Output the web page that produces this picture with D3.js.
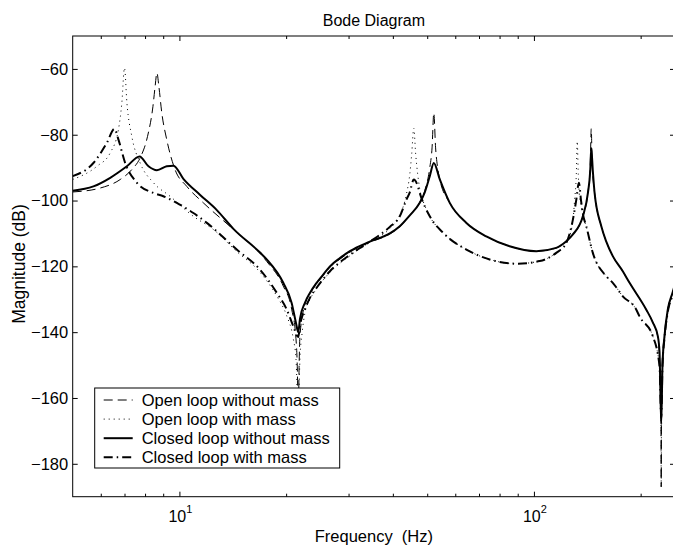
<!DOCTYPE html>
<html>
<head>
<meta charset="utf-8">
<script src="https://cdn.jsdelivr.net/npm/d3@7"></script>
<style>
    body { margin: 0; background: #fff; }
    svg { display: block; font-family: 'Liberation Sans', Arial, Helvetica, sans-serif; }
    .tick line { stroke: #000; }
</style>
</head>
<body>
<svg id="bode"></svg>
<script>
// Magnitude readings, [frequency (Hz), magnitude (dB)]
var openNoMass = [
    [5.0,-97.4],[5.98,-96.2],[6.81,-93.6],[7.34,-90.6],[7.75,-87.0],[8.13,-80.5],[8.42,-71.4],
    [8.54,-65.3],[8.64,-61.2],[8.75,-65.3],[8.92,-73.4],[9.21,-81.5],[9.72,-90.6],[10.49,-95.7],
    [11.68,-100.7],[14.2,-108.8],[17.63,-118.5],[19.63,-126],[20.73,-133],[21.32,-142],[21.52,-152],
    [21.64,-166],[21.76,-150],[21.88,-141],[22.61,-131.5],[23.36,-128.3],[24.38,-125.3],[25.44,-122.8],
    [26.58,-120.3],[28.36,-117.8],[30.26,-115.7],[34.44,-112.7],[39.21,-110.2],[41.84,-108],
    [44.65,-104.5],[47.64,-100.5],[49.21,-97],[50.84,-90],[51.6,-84],[52.19,-73.4],[52.8,-84],
    [53.5,-90],[54.26,-93.6],[57.88,-100.7],[64.5,-106.8],[73.4,-110.9],[85.4,-113.9],[101.6,-115.4],
    [115.6,-114.4],[123.4,-112.4],[128.8,-110.3],[137.4,-104.8],[142.0,-97.5],[144.2,-89],
    [145.1,-78.2],[146.0,-89],[148.3,-97.7],[154.9,-107.8],[160.0,-112.5],[166.9,-116.9],
    [178.1,-121.5],[186.1,-125],[207.3,-133.1],[216.4,-137],[223.6,-141.5],[226.1,-148],
    [228.2,-160],[228.6,-187],[229.0,-160],[230.5,-150],[233.5,-141.5],[238.6,-133.3],
    [246,-128.2],[250.7,-125.2]
];
var openMass = [
    [5.0,-93.6],[5.85,-89.6],[6.38,-85.5],[6.73,-78.4],[6.88,-70.3],[7.0,-59.7],[7.11,-70.3],
    [7.34,-80.5],[7.75,-88.6],[8.45,-94.6],[9.41,-98.7],[10.95,-104.8],[12.47,-108.8],[14.51,-115.5],
    [16.88,-121.8],[18.81,-129],[20.07,-135],[20.95,-142],[21.32,-148],[21.64,-165],[21.88,-148],
    [22.2,-140],[22.61,-134],[23.36,-130],[24.38,-126.8],[26.58,-121.8],[30.26,-116.8],
    [34.44,-112.6],[39.21,-108.5],[41.84,-104.5],[43.7,-98],[44.65,-92],[45.2,-86],[45.82,-78],
    [46.4,-86],[47.0,-92],[47.64,-96.5],[49.21,-101.5],[50.84,-104.8],[55.43,-109.8],[64.5,-114.9],
    [75.0,-117.9],[89.2,-119.2],[103.8,-118.4],[115.6,-115.9],[123.4,-113],[128.8,-106.3],
    [130.2,-100],[131.7,-92],[132.5,-82],[133.4,-92],[134.5,-99],[135.8,-101],[137.4,-104.3],
    [140.5,-108],[146.6,-115.9],[160.0,-123],[166.9,-125],[178.1,-129.1],[194.3,-133.1],
    [198.5,-135.2],[216.4,-141.2],[226.1,-150.3],[228.2,-162],[228.6,-187],[229.0,-162],
    [230.5,-151],[233.5,-142],[238.6,-134],[246,-129],[250.7,-126]
];
var closedNoMass = [
    [5.0,-97.0],[5.72,-95.7],[6.38,-93.1],[7.11,-89.6],[7.72,-86.6],[8.18,-89.6],[8.64,-90.8],
    [9.21,-89.6],[9.62,-89.4],[10.26,-93.4],[11.44,-98.3],[12.75,-102.9],[14.2,-108.6],
    [16.88,-115.8],[17.63,-117.9],[19.63,-125],[20.73,-131.1],[21.32,-137.2],[21.64,-140],
    [21.88,-136],[22.61,-131],[23.36,-128],[24.38,-125],[25.44,-122.5],[26.58,-120],[28.36,-117.5],
    [30.26,-115.4],[34.44,-112.5],[39.21,-110],[41.84,-107.8],[44.65,-104.5],[47.64,-100.7],
    [49.21,-97.5],[50.84,-92.6],[52.19,-88.6],[54.26,-93.6],[57.88,-100.7],[64.5,-106.8],
    [73.4,-110.9],[85.4,-113.9],[101.6,-115.4],[115.6,-114.4],[123.4,-112.4],[128.8,-110.3],
    [137.4,-104.8],[142.0,-97.7],[144.2,-90.6],[145.1,-84],[146.6,-91],[148.3,-97.7],
    [154.9,-107.8],[160.0,-112.5],[166.9,-116.9],[178.1,-121.5],[186.1,-125],[207.3,-133.1],
    [216.4,-137],[223.6,-141.2],[226.1,-146],[228.6,-168],[230.5,-150],[233.5,-141.2],
    [238.6,-133.1],[246,-128],[250.7,-125]
];
var closedMass = [
    [5.0,-92.6],[5.72,-88.6],[6.24,-82.5],[6.56,-78.2],[6.73,-81.5],[7.03,-88.6],[7.59,-94.6],
    [8.45,-97.7],[9.01,-98.7],[9.83,-100.7],[10.95,-103.8],[11.95,-106.8],[14.51,-114.9],
    [16.88,-121],[18.81,-128],[20.07,-133.1],[20.95,-138.2],[21.64,-141.5],[21.88,-138],
    [22.61,-133],[23.36,-129.5],[24.38,-126.5],[26.58,-121.5],[30.26,-116.5],[34.44,-112.5],
    [39.21,-108],[41.84,-104.8],[43.7,-99.7],[44.65,-97.5],[45.82,-93.6],[47.0,-95.5],
    [47.64,-97.7],[50.84,-104.8],[55.43,-109.8],[64.5,-114.9],[75.0,-117.9],[89.2,-119.2],
    [103.8,-118.4],[115.6,-115.9],[123.4,-112.9],[128.8,-105.8],[131.7,-99.7],[133.9,-94.6],
    [135.8,-100],[137.4,-104],[140.5,-107.8],[146.6,-115.9],[160.0,-123],[166.9,-125],
    [178.1,-129.1],[194.3,-133.1],[198.5,-135.2],[216.4,-141.2],[226.1,-150.3],[228.6,-166],
    [230.5,-150],[233.5,-141.8],[238.6,-133.8],[246,-128.8],[250.7,-125.8]
];

// Legend labels and axis ticks
var seriesLabels = ['Open loop without mass', 'Open loop with mass', 'Closed loop without mass', 'Closed loop with mass'];
var yTicks = [-180, -160, -140, -120, -100, -80, -60];
var xMajorTicks = [10, 100];
var xMinorTicks = [6, 7, 8, 9, 20, 30, 40, 50, 60, 70, 80, 90, 200];
var xDomain = [5, 250];
var yDomain = [-190, -50];

// Bode magnitude plot class
class BodePlot{

    constructor(svg_name, dimensions, margin){
        this.svg = d3.select(svg_name);
        this.margin = margin;
        this.width = dimensions.width;
        this.height = dimensions.height;
        this.plotWidth = dimensions.plotWidth;
        this.plotHeight = dimensions.plotHeight;
    }

    // Draw axes, curves and legend
    drawChart(series){
        var self = this;
        var w = self.plotWidth, h = self.plotHeight;

        self.svg.attr('width', self.width).attr('height', self.height);

        var g = self.svg.append('g')
            .attr('transform', 'translate(' + self.margin.left + ',' + self.margin.top + ')');

        // Define log x scale and linear y scale
        var x = d3.scaleLog().domain(xDomain).range([0, w]);
        var y = d3.scaleLinear().domain(yDomain).range([h, 0]);

        // Clip curves to the axes box
        self.svg.append('defs').append('clipPath').attr('id', 'plotclip')
            .append('rect').attr('width', w).attr('height', h);

        // Ticks on all four sides, pointing inward
        var addTicks = function(axis, tx, ty){
            var a = g.append('g')
                .attr('transform', 'translate(' + tx + ',' + ty + ')')
                .call(axis);
            a.select('.domain').remove();
            return a;
        };
        addTicks(d3.axisBottom(x).tickValues(xMinorTicks).tickSize(-3).tickFormat(''), 0, h);
        addTicks(d3.axisBottom(x).tickValues(xMajorTicks).tickSize(-5).tickFormat(''), 0, h);
        addTicks(d3.axisTop(x).tickValues(xMinorTicks).tickSize(-3).tickFormat(''), 0, 0);
        addTicks(d3.axisTop(x).tickValues(xMajorTicks).tickSize(-5).tickFormat(''), 0, 0);
        addTicks(d3.axisRight(y).tickValues(yTicks).tickSize(-5).tickFormat(''), w, 0);

        // Left axis with labels
        var yAxis = addTicks(d3.axisLeft(y).tickValues(yTicks).tickSize(-5).tickPadding(4.5)
            .tickFormat(d3.format('d')), 0, 0);
        yAxis.selectAll('text')
            .attr('font-size', '16.5px')
            .attr('font-family', null)
            .attr('fill', '#000');

        // Decade labels 10^n under the bottom axis
        var xl = g.append('g').selectAll('text')
            .data(xMajorTicks)
            .enter().append('text')
            .attr('x', function(d){ return x(d) - 11 })
            .attr('y', h + 25)
            .attr('font-size', '16px');
        xl.append('tspan').text('10');
        xl.append('tspan')
            .attr('font-size', '11px')
            .attr('dy', '-0.75em')
            .text(function(d){ return Math.round(Math.log10(d)) });

        // Axes box
        g.append('rect')
            .attr('width', w)
            .attr('height', h)
            .attr('fill', 'none')
            .attr('stroke', '#000')
            .attr('stroke-width', 1);

        // Curves
        var line = d3.line()
            .x(function(d){ return x(d[0]) })
            .y(function(d){ return y(d[1]) })
            .curve(d3.curveMonotoneX);

        var curves = g.append('g').attr('clip-path', 'url(#plotclip)');
        series.forEach(function(s){
            curves.append('path')
                .datum(s.data)
                .attr('fill', 'none')
                .attr('stroke', '#000')
                .attr('stroke-width', s.width)
                .attr('stroke-dasharray', s.dash)
                .attr('stroke-linejoin', 'round')
                .attr('d', line);
        });

        // Legend box
        var lg = g.append('g').attr('transform', 'translate(22,352)');
        lg.append('rect')
            .attr('width', 245)
            .attr('height', 80)
            .attr('fill', '#fff')
            .attr('stroke', '#000')
            .attr('stroke-width', 1);
        series.forEach(function(s, i){
            var yy = 12 + i * 19.1;
            lg.append('line')
                .attr('x1', 9).attr('x2', 38)
                .attr('y1', yy).attr('y2', yy)
                .attr('stroke', '#000')
                .attr('stroke-width', s.width)
                .attr('stroke-dasharray', s.dash);
            lg.append('text')
                .attr('x', 47)
                .attr('y', yy)
                .attr('dy', '0.35em')
                .attr('font-size', '16.5px')
                .text(s.label);
        });

        // Title and axis titles
        self.svg.append('text')
            .attr('x', self.margin.left + w / 2)
            .attr('y', 26)
            .attr('text-anchor', 'middle')
            .attr('font-size', '16px')
            .text('Bode Diagram');
        self.svg.append('text')
            .attr('x', self.margin.left + w / 2)
            .attr('y', 542)
            .attr('text-anchor', 'middle')
            .attr('font-size', '16.5px')
            .attr('xml:space', 'preserve')
            .text('Frequency  (Hz)');
        self.svg.append('text')
            .attr('transform', 'translate(25,' + 264 + ') rotate(-90)')
            .attr('text-anchor', 'middle')
            .attr('font-size', '17.5px')
            .text('Magnitude (dB)');
    }
}

var plot = new BodePlot('#bode',
    {width: 673, height: 548, plotWidth: 602.3, plotHeight: 460.7},
    {left: 72.7, top: 36});

plot.drawChart([
    {label: seriesLabels[0], data: openNoMass, width: 1, dash: '9,5'},
    {label: seriesLabels[1], data: openMass, width: 1, dash: '1,4'},
    {label: seriesLabels[2], data: closedNoMass, width: 2, dash: null},
    {label: seriesLabels[3], data: closedMass, width: 2, dash: '9,4,1.5,4'}
]);
</script>
</body>
</html>
